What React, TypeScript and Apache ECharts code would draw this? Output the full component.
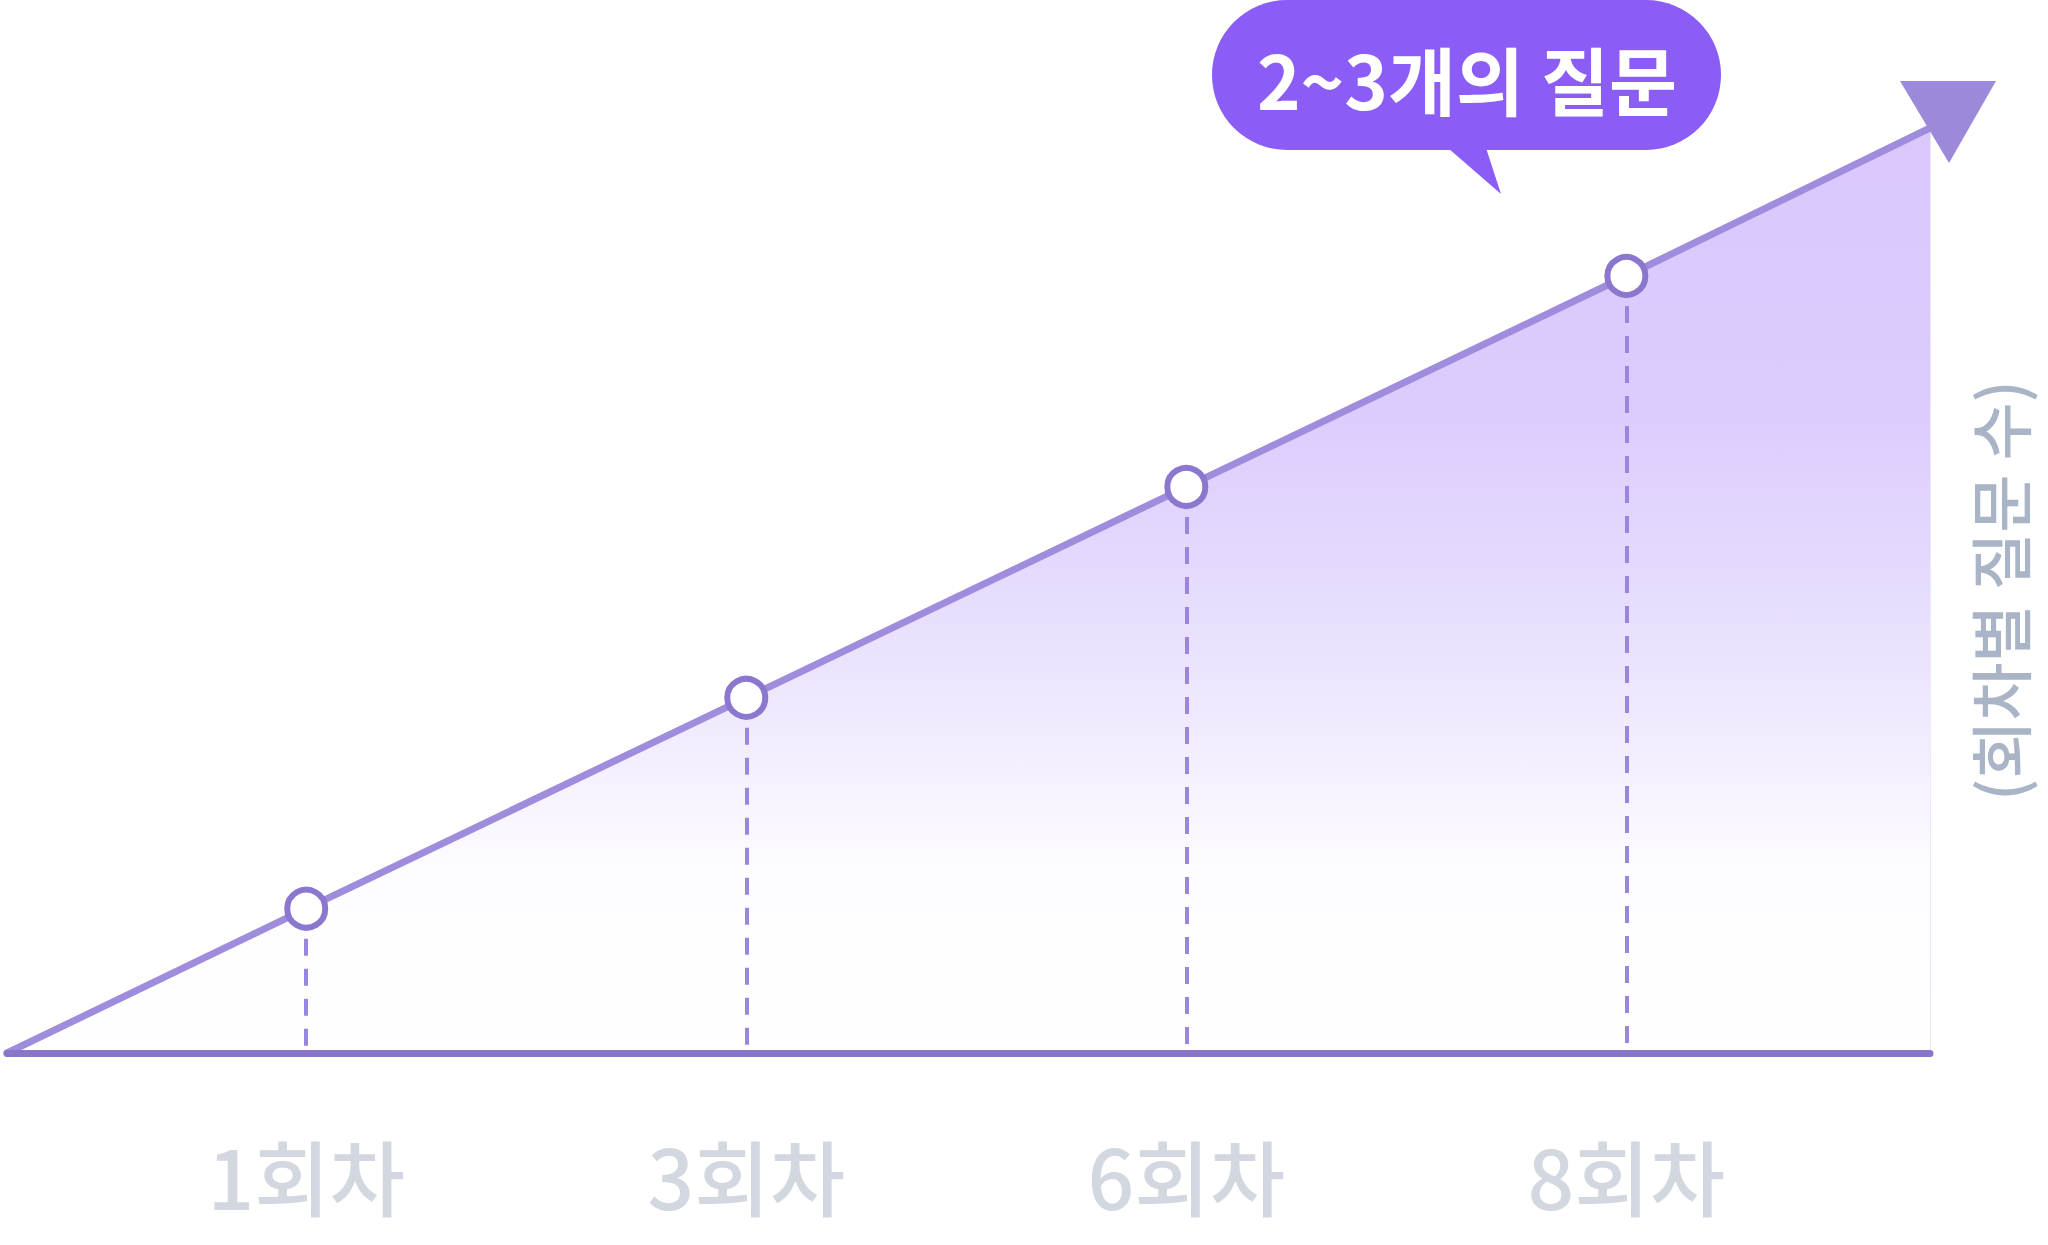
import React, { useEffect, useRef } from "react";
import * as echarts from "echarts";

// Category labels (evenly spaced slots on the x axis)
const categories: string[] = ["1회차", "3회차", "6회차", "8회차"];
const slots: number[] = [0, 1, 2, 3];
// Relative number of questions at each session (0–100 scale)
const pointValues: number[] = [15.6, 38.4, 61.2, 84.0];
// Start and end of the rising line
const startPoint: number[] = [-0.68, 0];
const endPoint: number[] = [3.69, 100];

const yAxisName = "(회차별 질문 수)";
const calloutText = "2~3개의 질문";

export default function App() {
  const ref = useRef<HTMLDivElement>(null);

  useEffect(() => {
    if (!ref.current) return;
    const chart = echarts.init(ref.current, undefined, { renderer: "svg" });

    const points = slots.map((s, i) => [s, pointValues[i]]);
    const lineData: any[] = [startPoint, ...points, endPoint];

    const dropLines = slots.map((s, i) => [
      { coord: [s, pointValues[i]] },
      { coord: [s, 0] },
    ]);

    chart.setOption({
      animation: false,
      backgroundColor: "#ffffff",
      grid: { left: 7, right: 118, top: 128, bottom: 192 },
      xAxis: {
        type: "value",
        min: startPoint[0],
        max: endPoint[0],
        z: 10,
        axisLine: {
          show: true,
          lineStyle: { color: "#8a76c8", width: 7, cap: "round" },
        },
        axisTick: { show: false },
        splitLine: { show: false },
        axisLabel: {
          customValues: slots,
          formatter: (v: number) => {
            const idx = slots.indexOf(Math.round(v));
            return idx >= 0 ? categories[idx] : "";
          },
          color: "#d2d7e0",
          fontSize: 82,
          fontWeight: 500,
          fontFamily: "Noto Sans CJK KR",
          margin: 80,
        },
      },
      yAxis: {
        type: "value",
        min: 0,
        max: 100,
        position: "right",
        axisLine: {
          show: true,
          onZero: false,
          lineStyle: { color: "#ece7fa", width: 2 },
        },
        axisTick: { show: false },
        axisLabel: { show: false },
        splitLine: { show: false },
        name: yAxisName,
        nameLocation: "middle",
        nameRotate: 90,
        nameGap: 36,
        nameTextStyle: {
          color: "#a9b5c6",
          fontSize: 63,
          fontWeight: 500,
          fontFamily: "Noto Sans CJK KR",
        },
      },
      series: [
        {
          type: "line",
          data: lineData,
          showSymbol: false,
          lineStyle: { color: "#a08cdc", width: 7, cap: "round" },
          areaStyle: {
            opacity: 1,
            color: new echarts.graphic.LinearGradient(0, 0, 0, 1, [
              { offset: 0, color: "#dac8fd" },
              { offset: 0.3, color: "#dccbfd" },
              { offset: 0.5, color: "#e6dcfd" },
              { offset: 0.65, color: "#f1ebfe" },
              { offset: 0.8, color: "#fdfcff" },
              { offset: 1, color: "#ffffff" },
            ]),
          },
          z: 3,
          markLine: {
            silent: true,
            symbol: "none",
            label: { show: false },
            emphasis: { disabled: true },
            lineStyle: { color: "#9a86de", width: 4, type: [17, 13], opacity: 1 },
            data: dropLines,
            z: 4,
          },
        },
        {
          type: "scatter",
          data: points,
          symbol: "circle",
          symbolSize: 38,
          itemStyle: { color: "#ffffff", borderColor: "#8b77cd", borderWidth: 6, opacity: 1 },
          z: 6,
        },
      ],
      graphic: [
        {
          type: "polygon",
          shape: { points: [[1900, 81], [1996, 81], [1949, 163]] },
          style: { fill: "#9d89d9" },
          z: 10,
        },
        {
          type: "group",
          z: 20,
          children: [
            {
              type: "rect",
              shape: { x: 1212, y: 0, width: 509, height: 150, r: 75 },
              style: { fill: "#8b5cf6" },
            },
            {
              type: "polygon",
              shape: { points: [[1448, 148], [1486, 148], [1501, 194]] },
              style: { fill: "#8b5cf6" },
            },
            {
              type: "text",
              x: 1467,
              y: 77,
              style: {
                text: calloutText,
                fill: "#ffffff",
                fontSize: 74,
                fontWeight: "bold",
                fontFamily: "Noto Sans CJK KR",
                align: "center",
                verticalAlign: "middle",
              },
            },
          ],
        },
      ],
    });

    return () => chart.dispose();
  }, []);

  return (
    <div
      ref={ref}
      style={{ position: "fixed", left: 0, top: 0, width: 2048, height: 1245 }}
    />
  );
}
